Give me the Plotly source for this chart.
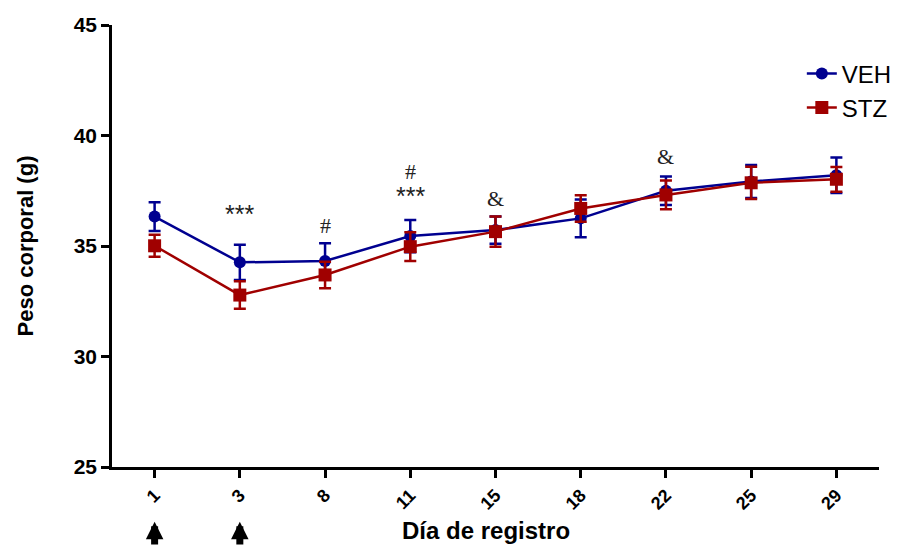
import plotly.graph_objects as go

days = ["1", "3", "8", "11", "15", "18", "22", "25", "29"]
veh_mean = [36.33, 34.26, 34.32, 35.45, 35.72, 36.25, 37.50, 37.92, 38.20]
veh_sem = [0.65, 0.80, 0.80, 0.73, 0.62, 0.85, 0.65, 0.75, 0.80]
stz_mean = [35.01, 32.78, 33.69, 34.97, 35.65, 36.70, 37.31, 37.86, 38.02]
stz_sem = [0.50, 0.62, 0.60, 0.65, 0.68, 0.60, 0.65, 0.73, 0.56]

sig_days = ["3", "8", "11", "11", "15", "22"]
sig_text = ["***", "#", "***", "#", "&", "&"]
sig_y = [36.45, 35.95, 37.25, 38.35, 37.17, 39.03]
arrow_days = ["1", "3"]

VEH_C = "#000090"
STZ_C = "#A00000"

fig = go.Figure()
fig.add_trace(go.Scatter(
    x=days, y=veh_mean, name="VEH", mode="lines+markers",
    line=dict(color=VEH_C, width=2.5),
    marker=dict(symbol="circle", size=12, color=VEH_C),
    error_y=dict(type="data", array=veh_sem, color=VEH_C, thickness=2.5, width=6),
))
fig.add_trace(go.Scatter(
    x=days, y=stz_mean, name="STZ", mode="lines+markers",
    line=dict(color=STZ_C, width=2.5),
    marker=dict(symbol="square", size=13, color=STZ_C),
    error_y=dict(type="data", array=stz_sem, color=STZ_C, thickness=2.5, width=6),
))

for d, t, y in zip(sig_days, sig_text, sig_y):
    is_star = t == "***"
    fig.add_annotation(
        x=days.index(d), y=y, xref="x", yref="y", text=t, showarrow=False,
        font=dict(family="Liberation Sans" if is_star else "Liberation Serif",
                  size=25 if is_star else 22, color="#222222"),
    )

for d in arrow_days:
    fig.add_annotation(
        x=days.index(d), y=-0.124, xref="x", yref="paper", text="",
        showarrow=True, ax=0, ay=32, axref="pixel", ayref="pixel",
        arrowhead=2, arrowsize=0.5, arrowwidth=7, arrowcolor="black",
        standoff=0,
    )

fig.add_annotation(
    x=0.488, y=-0.143, xref="paper", yref="paper", text="<b>Día de registro</b>",
    showarrow=False, yanchor="middle",
    font=dict(family="Liberation Sans", size=24, color="black"),
)

fig.update_layout(
    width=905, height=546,
    margin=dict(l=112, r=26, t=25, b=79, autoexpand=False),
    paper_bgcolor="white", plot_bgcolor="white",
    font=dict(family="Liberation Sans", color="black"),
    legend=dict(x=0.886, y=0.906, xref="container", yref="container",
                xanchor="left", yanchor="top",
                font=dict(size=24, family="Liberation Sans"),
                bgcolor="rgba(0,0,0,0)", tracegroupgap=0),
    showlegend=True,
)
fig.update_xaxes(
    type="category", range=[-0.5, 8.5],
    showline=True, linecolor="black", linewidth=2.5,
    ticks="outside", ticklen=8, tickwidth=2.5, tickcolor="black",
    tickangle=-45, showgrid=False, zeroline=False,
    tickfont=dict(size=18, family="Liberation Sans", weight="bold"),
)
fig.update_yaxes(
    range=[25, 45], tickvals=[25, 30, 35, 40, 45],
    showline=True, linecolor="black", linewidth=2.5,
    ticks="outside", ticklen=8, tickwidth=2.5, tickcolor="black",
    showgrid=False, zeroline=False,
    tickfont=dict(size=21, family="Liberation Sans", weight="bold"),
    title=dict(text="<b>Peso corporal (g)</b>", font=dict(size=22), standoff=34),
)

fig.write_html("out.html")
